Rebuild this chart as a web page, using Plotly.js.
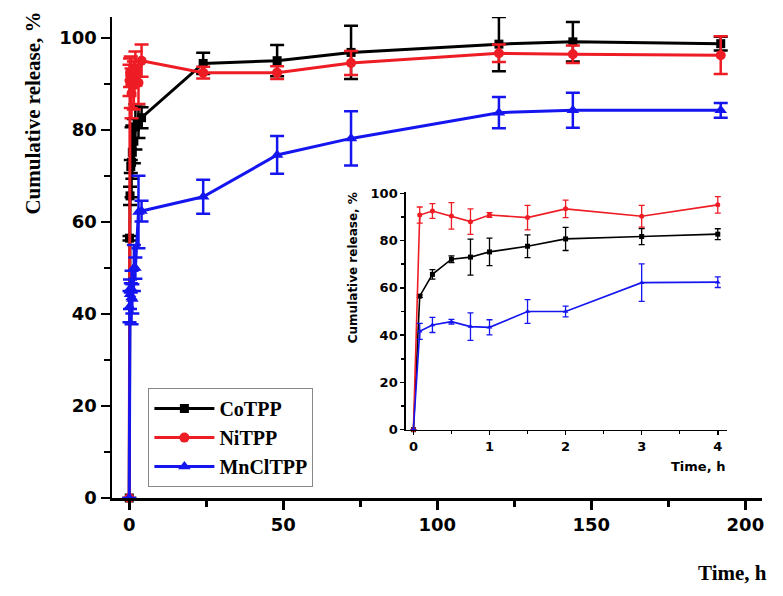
<!DOCTYPE html>
<html>
<head>
<meta charset="utf-8">
<script src="https://cdn.plot.ly/plotly-3.0.1.min.js"></script>
<style>
  html, body { margin: 0; padding: 0; background: #fff; }
  #chart { width: 783px; height: 596px; }
</style>
</head>
<body>
<div id="chart"></div>
<script>
// sampling times, h
const times = [0, 0.083, 0.25, 0.5, 0.75, 1, 1.5, 2, 3, 4, 24, 48, 72, 120, 144, 192];

// cumulative release, % (mean and error)
const coY = [0, 56.5, 65.7, 72.1, 73.0, 75.2, 77.6, 80.7, 81.7, 82.7, 94.5, 95.1, 96.9, 98.7, 99.2, 98.8];
const coErr = [0, 0.5, 2.0, 1.4, 7.6, 5.8, 4.8, 4.9, 3.4, 2.3, 2.3, 3.4, 5.8, 5.9, 4.3, 1.5];
const niY = [0, 90.8, 92.5, 90.4, 88.0, 90.8, 89.7, 93.4, 90.3, 95.1, 92.5, 92.5, 94.6, 96.7, 96.5, 96.3];
const niErr = [0, 3.4, 3.1, 5.6, 5.4, 1.0, 5.2, 3.7, 4.6, 3.5, 1.3, 1.4, 2.6, 1.9, 1.9, 4.1];
const mnY = [0, 41.6, 44.3, 45.7, 43.6, 43.3, 50.0, 50.0, 62.2, 62.4, 65.5, 74.6, 78.2, 83.8, 84.3, 84.3];
const mnErr = [0, 3.4, 3.2, 1.0, 5.8, 3.2, 5.0, 2.3, 7.9, 2.25, 3.7, 4.1, 5.9, 3.4, 3.8, 1.6];

const names = ["CoTPP", "NiTPP", "MnClTPP"];
const colors = ["#000000", "#ee1c24", "#1515f0"];
const symbols = ["square", "circle", "triangle-up"];

// inset shows only the first 4 hours
const nInset = times.filter((t) => t <= 4).length;

const seriesY = [coY, niY, mnY];
const seriesErr = [coErr, niErr, mnErr];
const mainSize = [9, 10, 11];

const traces = [];

// main plot
seriesY.forEach((ys, i) => {
  traces.push({
    x: times,
    y: ys,
    type: "scatter",
    mode: "lines+markers",
    name: names[i],
    line: { color: colors[i], width: 3 },
    marker: { color: colors[i], symbol: symbols[i], size: mainSize[i] },
    error_y: {
      type: "data",
      array: seriesErr[i],
      visible: true,
      color: colors[i],
      thickness: 2.5,
      width: 7,
    },
    cliponaxis: false,
  });
});

// inset
seriesY.forEach((ys, i) => {
  traces.push({
    x: times.slice(0, nInset),
    y: ys.slice(0, nInset),
    xaxis: "x2",
    yaxis: "y2",
    type: "scatter",
    mode: "lines+markers",
    showlegend: false,
    line: { color: colors[i], width: 1.6 },
    marker: { color: colors[i], symbol: symbols[i], size: 5 },
    error_y: {
      type: "data",
      array: seriesErr[i].slice(0, nInset),
      visible: true,
      color: colors[i],
      thickness: 1.3,
      width: 3,
    },
    cliponaxis: false,
  });
});

const tickFont = { family: "DejaVu Sans", size: 18, color: "#000", weight: "bold" };
const insetFont = { family: "DejaVu Sans", size: 13, color: "#000", weight: "bold" };
const serifFont = { family: "Liberation Serif", size: 21, color: "#000", weight: "bold" };

const layout = {
  width: 783,
  height: 596,
  margin: { l: 112, r: 21, t: 17, b: 98 },
  paper_bgcolor: "#fff",
  plot_bgcolor: "rgba(0,0,0,0)",
  showlegend: true,
  legend: {
    x: 0.056,
    y: 0.2285,
    xanchor: "left",
    yanchor: "top",
    bgcolor: "#fff",
    bordercolor: "#888",
    borderwidth: 1,
    font: { family: "Liberation Serif", size: 20, color: "#000", weight: "bold" },
    itemwidth: 60,
    tracegroupgap: 0,
  },
  xaxis: {
    range: [-5.6, 205.4],
    tickvals: [0, 50, 100, 150, 200],
    ticks: "outside",
    ticklen: 9,
    tickwidth: 2.5,
    tickcolor: "#000",
    minor: { dtick: 25, tick0: 0, ticks: "outside", ticklen: 6, tickwidth: 2.5, tickcolor: "#000" },
    showline: true,
    linewidth: 2.5,
    linecolor: "#000",
    showgrid: false,
    zeroline: false,
    tickfont: tickFont,
  },
  yaxis: {
    range: [0, 104.6],
    tickvals: [0, 20, 40, 60, 80, 100],
    ticks: "outside",
    ticklen: 9,
    tickwidth: 2.5,
    tickcolor: "#000",
    minor: { dtick: 10, tick0: 0, ticks: "outside", ticklen: 6, tickwidth: 2.5, tickcolor: "#000" },
    showline: true,
    linewidth: 2.5,
    linecolor: "#000",
    showgrid: false,
    zeroline: false,
    tickfont: tickFont,
  },
  xaxis2: {
    domain: [0.452, 0.946],
    anchor: "y2",
    range: [-0.1, 4.12],
    tickvals: [0, 1, 2, 3, 4],
    ticks: "outside",
    ticklen: 4,
    tickwidth: 1.5,
    tickcolor: "#000",
    minor: { dtick: 0.5, tick0: 0, ticks: "outside", ticklen: 3, tickwidth: 1.5, tickcolor: "#000" },
    showline: true,
    linewidth: 1.5,
    linecolor: "#000",
    showgrid: false,
    zeroline: false,
    tickfont: insetFont,
  },
  yaxis2: {
    domain: [0.142, 0.636],
    anchor: "x2",
    range: [0, 100.5],
    tickvals: [0, 20, 40, 60, 80, 100],
    ticks: "outside",
    ticklen: 4,
    tickwidth: 1.5,
    tickcolor: "#000",
    minor: { dtick: 10, tick0: 0, ticks: "outside", ticklen: 3, tickwidth: 1.5, tickcolor: "#000" },
    showline: true,
    linewidth: 1.5,
    linecolor: "#000",
    showgrid: false,
    zeroline: false,
    tickfont: insetFont,
  },
  annotations: [
    {
      text: "Cumulative release, %",
      xref: "paper",
      yref: "paper",
      x: -0.121,
      y: 0.8,
      textangle: -90,
      showarrow: false,
      xanchor: "center",
      yanchor: "middle",
      font: serifFont,
    },
    {
      text: "Time, h",
      xref: "paper",
      yref: "paper",
      x: 1.01,
      y: -0.156,
      showarrow: false,
      xanchor: "right",
      yanchor: "middle",
      font: serifFont,
    },
    {
      text: "Cumulative release, %",
      xref: "paper",
      yref: "paper",
      x: 0.371,
      y: 0.478,
      textangle: -90,
      showarrow: false,
      xanchor: "center",
      yanchor: "middle",
      font: { family: "DejaVu Sans", size: 12, color: "#000", weight: "bold" },
    },
    {
      text: "Time, h",
      xref: "paper",
      yref: "paper",
      x: 0.9466,
      y: 0.065,
      showarrow: false,
      xanchor: "right",
      yanchor: "middle",
      font: insetFont,
    },
  ],
};

Plotly.newPlot("chart", traces, layout, { displayModeBar: false, staticPlot: true });
</script>
</body>
</html>
